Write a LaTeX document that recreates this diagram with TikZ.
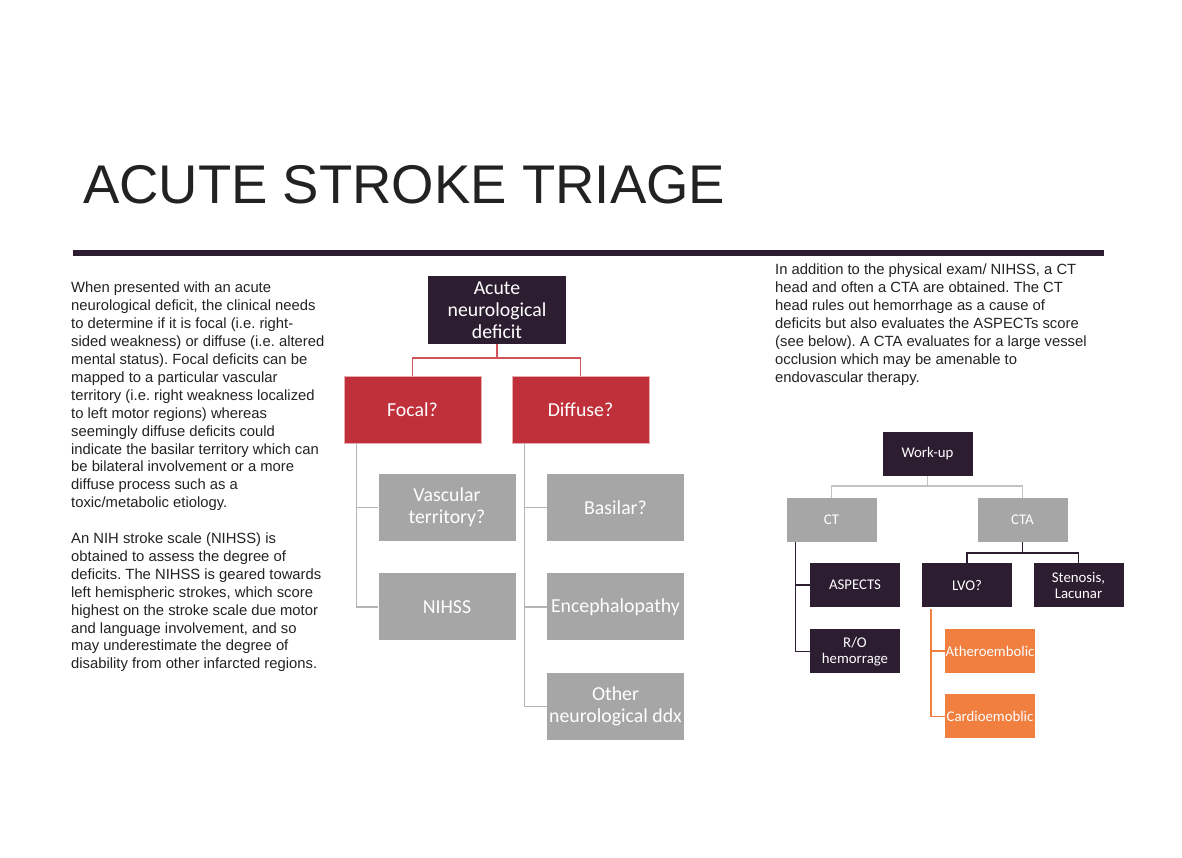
\documentclass[tikz,border=0pt]{standalone}
\usepackage{fontspec}
\setmainfont{Liberation Sans}
\newfontfamily\calibri{Carlito}
\usepackage{tikz}
\usetikzlibrary{positioning}
\frenchspacing

\definecolor{plum}{HTML}{2C1D30}
\definecolor{brick}{HTML}{C0303A}
\definecolor{brickline}{HTML}{D0545A}
\definecolor{ash}{HTML}{A5A6A5}
\definecolor{ashline}{HTML}{B4B4B4}
\definecolor{tangerine}{HTML}{F07F40}
\definecolor{inktext}{HTML}{222222}

\begin{document}
\begin{tikzpicture}[
	x=1pt, y=-1pt,
	bigbox/.style={rectangle, inner sep=0pt, minimum width=137pt, minimum height=67pt, align=center, text=white, font=\calibri\fontsize{19.8}{22}\selectfont},
	smallbox/.style={rectangle, inner sep=0pt, minimum width=90pt, minimum height=44pt, align=center, text=white, font=\calibri\fontsize{14.8}{16}\selectfont},
	darkbox/.style={fill=plum},
	redbox/.style={fill=brick, draw=brick!40, line width=0.8pt},
	graybox/.style={fill=ash},
	orangebox/.style={fill=tangerine},
	para/.style={anchor=north west, inner sep=0pt, align=left, text=inktext, font=\fontsize{14.8}{17.9}\selectfont},
	link/.style={line width=1.6pt}
	]
	\useasboundingbox (0,0) rectangle (1182,857);

	% Title and rule
	\node (title) [anchor=base west, inner sep=0pt, text=inktext, font=\fontsize{54.5}{60}\selectfont] at (83,203) {ACUTE STROKE TRIAGE};
	\fill[plum] (73,249.5) rectangle (1104,255.5);

	% Text columns
	\node (lefttext) [para] at (71,282) {When presented with an acute\\neurological deficit, the clinical needs\\to determine if it is focal (i.e. right-\\sided weakness) or diffuse (i.e. altered\\mental status). Focal deficits can be\\mapped to a particular vascular\\territory (i.e. right weakness localized\\to left motor regions) whereas\\seemingly diffuse deficits could\\indicate the basilar territory which can\\be bilateral involvement or a more\\diffuse process such as a\\toxic/metabolic etiology.\\[17.9pt]An NIH stroke scale (NIHSS) is\\obtained to assess the degree of\\deficits. The NIHSS is geared towards\\left hemispheric strokes, which score\\highest on the stroke scale due motor\\and language involvement, and so\\may underestimate the degree of\\disability from other infarcted regions.};
	\node (righttext) [para] at (775,264) {In addition to the physical exam/ NIHSS, a CT\\head and often a CTA are obtained. The CT\\head rules out hemorrhage as a cause of\\deficits but also evaluates the ASPECTs score\\(see below). A CTA evaluates for a large vessel\\occlusion which may be amenable to\\endovascular therapy.};

	% Left tree
	\node (acute) [bigbox, darkbox, minimum width=138pt, minimum height=68pt] at (497,310) {Acute\\neurological\\deficit};
	\node (focal) [bigbox, redbox] at (412.5,409.5) {Focal?};
	\node (diffuse) [bigbox, redbox] at (580.5,409.5) {Diffuse?};
	\node (vasc) [bigbox, graybox] at (447,507.5) {Vascular\\territory?};
	\node (nihss) [bigbox, graybox, below=32pt of vasc] {NIHSS};
	\node (basilar) [bigbox, graybox] at (615.5,507.5) {Basilar?};
	\node (enceph) [bigbox, graybox, below=32pt of basilar] {Encephalopathy};
	\node (other) [bigbox, graybox, below=32pt of enceph] {Other\\neurological ddx};

	\draw [link, brickline] (acute.south) -- ++(0,14) -| (focal.north);
	\draw [link, brickline] (acute.south) -- ++(0,14) -| (diffuse.north);
	\draw [link, ashline] ([xshift=13pt]focal.south west) |- (vasc.west);
	\draw [link, ashline] ([xshift=13pt]focal.south west) |- (nihss.west);
	\draw [link, ashline] ([xshift=13pt]diffuse.south west) |- (basilar.west);
	\draw [link, ashline] ([xshift=13pt]diffuse.south west) |- (enceph.west);
	\draw [link, ashline] ([xshift=13pt]diffuse.south west) |- (other.west);

	% Right tree
	\node (workup) [smallbox, darkbox] at (927.5,454) {Work-up};
	\node (ct) [smallbox, graybox] at (831.5,520) {CT};
	\node (cta) [smallbox, graybox] at (1022.5,520) {CTA};
	\node (aspects) [smallbox, darkbox] at (855,585) {ASPECTS};
	\node (ro) [smallbox, darkbox, below=22pt of aspects] {R/O\\hemorrage};
	\node (lvo) [smallbox, darkbox] at (967,585) {LVO?};
	\node (stenosis) [smallbox, darkbox] at (1078.5,585) {Stenosis,\\Lacunar};
	\node (athero) [smallbox, orangebox] at (990,651) {Atheroembolic};
	\node (cardio) [smallbox, orangebox, below=21pt of athero] {Cardioemoblic};

	\draw [link, ashline!80] (workup.south) -- ++(0,10) -| (ct.north);
	\draw [link, ashline!80] (workup.south) -- ++(0,10) -| (cta.north);
	\draw [link, plum] ([xshift=9pt]ct.south west) |- (aspects.west);
	\draw [link, plum] ([xshift=9pt]ct.south west) |- (ro.west);
	\draw [link, plum] (cta.south) -- ++(0,11) -| (lvo.north);
	\draw [link, plum] (cta.south) -- ++(0,11) -| (stenosis.north);
	\draw [link, tangerine] ([xshift=9pt,yshift=-2pt]lvo.south west) |- (athero.west);
	\draw [link, tangerine] ([xshift=9pt,yshift=-2pt]lvo.south west) |- (cardio.west);
\end{tikzpicture}
\end{document}
